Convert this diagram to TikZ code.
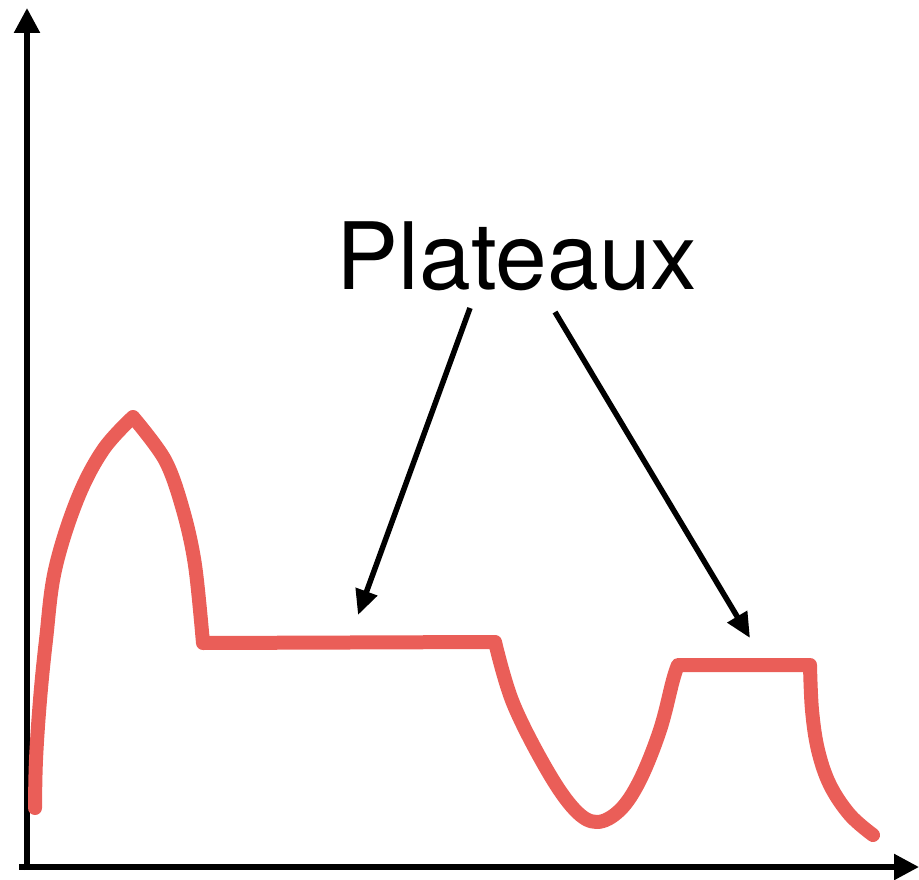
\documentclass[tikz,border=0pt]{standalone}
\usepackage{fontspec}
\setmainfont{TeX Gyre Heros}
\usetikzlibrary{arrows.meta}
\definecolor{curvered}{RGB}{234,94,88}
\tikzset{
  axisline/.style={line width=5.5pt, -{Triangle[length=25pt,width=25pt]}},
  pointer/.style={line width=5.5pt, -{Triangle[length=25pt,width=22pt]}},
  sketch/.style={curvered, line width=14pt, line cap=round, line join=round},
}
\begin{document}
\begin{tikzpicture}[x=1pt,y=-1pt]
\useasboundingbox (0,0) rectangle (919,880);
% axes
\coordinate (o1) at (27,870);
\coordinate (ytop) at (27,8);
\coordinate (o2) at (19,867);
\coordinate (xend) at (919,867);
\draw[axisline] (o1) -- (ytop);
\draw[axisline] (o2) -- (xend);
% red curve
\draw[sketch] plot[smooth, tension=0.6] coordinates {(35,808) (36,760) (40,700) (46,640) (55,570) (77,500) (103,450) (133,417)}
  plot[smooth, tension=0.55] coordinates {(133,417) (165,460) (183,510) (195,565) (203,643)}
  -- (495,642)
  plot[smooth, tension=0.6] coordinates {(495,642) (513,703) (547,770) (575,810) (597,822) (620,810) (640,780) (660,730) (673,680) (678,665)}
  -- (810,665)
  plot[smooth, tension=0.6] coordinates {(810,665) (812,710) (818,750) (830,785) (850,815) (873,835)};
% label
\node[anchor=base, inner sep=0pt, font=\fontsize{93}{100}\selectfont] (lbl) at (517,289) {Plateaux};
\coordinate (s1) at (470,308);
\coordinate (t1) at (358,615);
\coordinate (s2) at (555,312);
\coordinate (t2) at (750,638);
\draw[pointer] (s1) -- (t1);
\draw[pointer] (s2) -- (t2);
\end{tikzpicture}
\end{document}
